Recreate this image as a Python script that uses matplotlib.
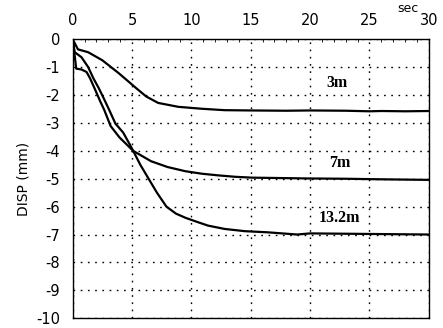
import matplotlib.pyplot as plt
import numpy as np

# displacement vs time
t_3m = [0, 0.45, 1.3, 2.5, 3.9, 5.35, 6.2, 7.2, 8.9, 10.9, 12.8, 15, 18, 20, 23, 25, 26, 28, 30]
d_3m = [0, -0.36, -0.46, -0.75, -1.22, -1.75, -2.05, -2.28, -2.42, -2.49, -2.54, -2.55, -2.56, -2.55, -2.56, -2.58, -2.57, -2.58, -2.57]

t_7m = [0, 0.17, 0.3, 0.74, 1.17, 1.47, 1.9, 2.33, 2.65, 3.2, 3.95, 4.67, 5.1, 6.6, 8.0, 9.5,
        10.9, 12.3, 13.7, 15.1, 16.7, 20, 23, 26, 30]
d_7m = [0, -0.58, -1.05, -1.08, -1.17, -1.4, -1.81, -2.23, -2.52, -3.11, -3.52, -3.82, -4.0, -4.37, -4.58, -4.73,
        -4.82, -4.88, -4.93, -4.96, -4.97, -4.99, -5.0, -5.02, -5.04]

t_13m = [0, 0.17, 0.74, 1.3, 1.75, 2.2, 2.6, 3.1, 3.6, 4.25, 4.8, 5.1, 5.7, 6.4, 7.1, 7.9, 8.7, 9.5,
         10.5, 11.4, 12.8, 14.5, 16.4, 18.9, 20, 25, 30]
d_13m = [0, -0.46, -0.64, -0.99, -1.4, -1.75, -2.1, -2.55, -3.02, -3.34, -3.76, -4.0, -4.5, -5.0, -5.5, -6.0, -6.25, -6.4,
         -6.55, -6.68, -6.8, -6.88, -6.92, -7.0, -6.96, -6.98, -7.0]

labels = ['3m', '7m', '13.2m']
label_pos = [(22.3, -1.55), (22.5, -4.45), (22.5, -6.4)]

plt.rcParams['axes.unicode_minus'] = False

fig = plt.figure(figsize=(4.43, 3.28), dpi=100)
ax = fig.add_axes([0.164, 0.03, 0.804, 0.85])

ax.plot(t_3m, d_3m, color='black', lw=1.6)
ax.plot(t_7m, d_7m, color='black', lw=1.6)
ax.plot(t_13m, d_13m, color='black', lw=1.6)

for lab, (x, y) in zip(labels, label_pos):
    ax.text(x, y, lab, family='Liberation Serif', fontsize=11.5, fontweight='bold', ha='center', va='center')

ax.set_xlim(0, 30)
ax.set_ylim(-10, 0)
ax.set_xticks(np.arange(0, 31, 5))
ax.set_yticks(np.arange(-10, 1, 1))
ax.set_xticks(np.arange(0, 31, 1), minor=True)
ax.xaxis.tick_top()
ax.tick_params(axis='both', which='major', length=0, labelsize=10.5)
ax.tick_params(axis='x', which='major', pad=8.5)
ax.tick_params(axis='y', which='major', pad=9)
ax.tick_params(axis='x', which='minor', direction='in', length=2, width=0.6, bottom=False)
ax.grid(True, which='major', color='black', linestyle=(0, (1.2, 4)), lw=1.0)
for s in ax.spines.values():
    s.set_linewidth(1.0)

ax.set_ylabel('DISP (mm)', fontsize=10, labelpad=4)
ax.text(28.2, 1.12, 'sec', fontsize=9, ha='center', va='center', clip_on=False)

fig.savefig('out.png', dpi=100)
